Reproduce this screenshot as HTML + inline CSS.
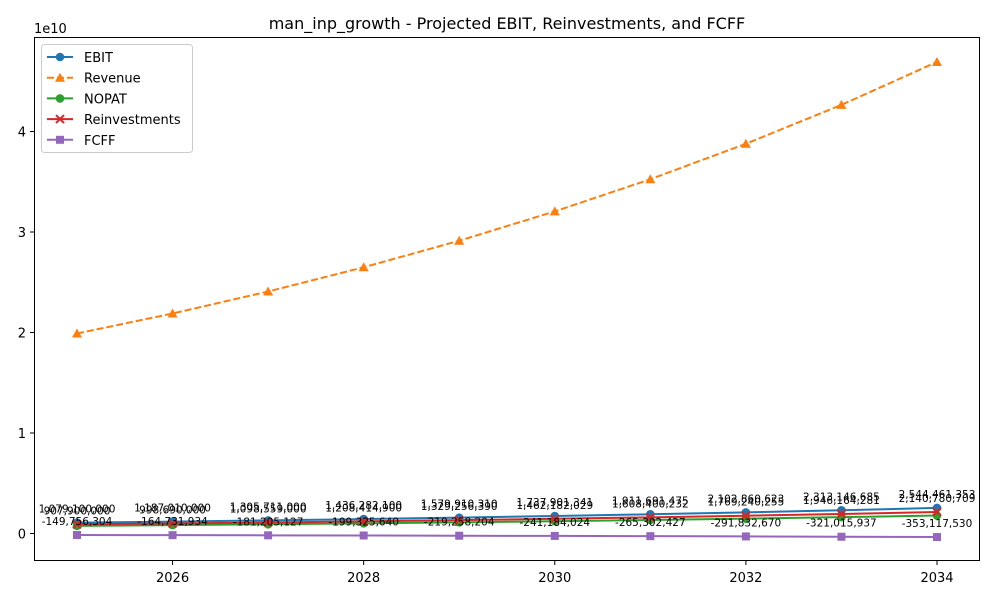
<!DOCTYPE html>
<html><head><meta charset="utf-8"><style>
body{margin:0;background:#fff;font-family:"Liberation Sans","DejaVu Sans",sans-serif}
svg text{font-family:"DejaVu Sans","Liberation Sans",sans-serif}
</style></head><body>
<svg id="chart" width="1000" height="600" xmlns="http://www.w3.org/2000/svg"></svg>
<script>
const years=[2025,2026,2027,2028,2029,2030,2031,2032,2033,2034];
const ebit=[1079100000,1187010000,1305711000,1436282100,1579910310,1737901341,1911691475,2102860623,2313146685,2544461353];
const revenue=[19.9e9,21.89e9,24.08e9,26.49e9,29.13e9,32.05e9,35.25e9,38.78e9,42.65e9,46.92e9];
const reinvest=[907900000,998690000,1098559000,1208414900,1329256390,1462182029,1608400232,1769240255,1946164281,2140780709];
const fcff=[-149756304,-164731934,-181205127,-199325640,-219258204,-241184024,-265302427,-291832670,-321015937,-353117530];
const nopat=reinvest.map((r,i)=>r+fcff[i]);
const xTicks=[2026,2028,2030,2032,2034];
const yTicks=[0,1,2,3,4];
const NS="http://www.w3.org/2000/svg";
const svg=document.getElementById('chart');
const X=v=>77+(v-2025)*(937-77)/9;
const Y=v=>533.5-v/1e10*100.5;
function el(t,a,p){const e=document.createElementNS(NS,t);for(const k in a)e.setAttribute(k,a[k]);(p||svg).appendChild(e);return e;}
function txt(s,a){const e=el('text',a);e.textContent=s;return e;}
let t=txt('man_inp_growth - Projected EBIT, Reinvestments, and FCFF',{x:507,y:29,'text-anchor':'middle','font-size':16});

t=txt('1e10',{x:34,y:33,'font-size':13});

const ax=el('rect',{x:34.5,y:37.5,width:945,height:523,fill:'none',stroke:'#000','stroke-width':1});

xTicks.forEach(v=>{el('line',{x1:X(v),x2:X(v),y1:561,y2:565,stroke:'#000'});
 const l=txt(v,{x:X(v),y:582,'text-anchor':'middle','font-size':13});
 });
yTicks.forEach(v=>{el('line',{x1:30,x2:34,y1:Y(v*1e10),y2:Y(v*1e10),stroke:'#000'});
 const l=txt(v,{x:26,y:Y(v*1e10)+5,'text-anchor':'end','font-size':13});
 });
function marker(m,x,y,c,g){
 if(m==='o')return el('circle',{cx:x,cy:y,r:4.3,fill:c},g);
 if(m==='^')return el('polygon',{points:`${x},${y-5} ${x-5},${y+4} ${x+5},${y+4}`,fill:c},g);
 if(m==='s')return el('rect',{x:x-4,y:y-4,width:8,height:8,fill:c},g);
 if(m==='x'){const p=el('path',{d:`M${x-4},${y-4}L${x+4},${y+4}M${x-4},${y+4}L${x+4},${y-4}`,stroke:c,'stroke-width':2,fill:'none'},g);return p;}
}
const series=[
 {n:'EBIT',d:ebit,c:'#1f77b4',m:'o',dash:''},
 {n:'Revenue',d:revenue,c:'#ff7f0e',m:'^',dash:'7,3'},
 {n:'NOPAT',d:nopat,c:'#2ca02c',m:'o',dash:''},
 {n:'Reinvestments',d:reinvest,c:'#d62728',m:'x',dash:''},
 {n:'FCFF',d:fcff,c:'#9467bd',m:'s',dash:''}];
series.forEach(s=>{
 const g=el('g',{});
 
 
 el('polyline',{points:s.d.map((v,i)=>X(years[i])+','+Y(v)).join(' '),fill:'none',stroke:s.c,'stroke-width':2,'stroke-dasharray':s.dash},g);
 s.d.forEach((v,i)=>{const mk=marker(s.m,X(years[i]),Y(v),s.c,g);
  
  });
});
[ebit,reinvest,fcff].forEach(arr=>arr.forEach((v,i)=>{
 const l=txt(v.toLocaleString('en-US'),{x:X(years[i]),y:Y(v)-10,'text-anchor':'middle','font-size':10.5});
 
 
}));
const lg=el('g',{});


el('rect',{x:41.5,y:44.5,width:151,height:108,rx:3,fill:'#fff',stroke:'#ccc'},lg);
series.forEach((s,i)=>{
 const y=57+i*20.7;
 const e=el('g',{},lg);
 
 
 el('line',{x1:47,x2:73,y1:y,y2:y,stroke:s.c,'stroke-width':2,'stroke-dasharray':s.dash},e);
 marker(s.m,60,y,s.c,e);
 const l=el('text',{x:84,y:y+5,'font-size':13},e);l.textContent=s.n;
});
</script>
</body></html>
